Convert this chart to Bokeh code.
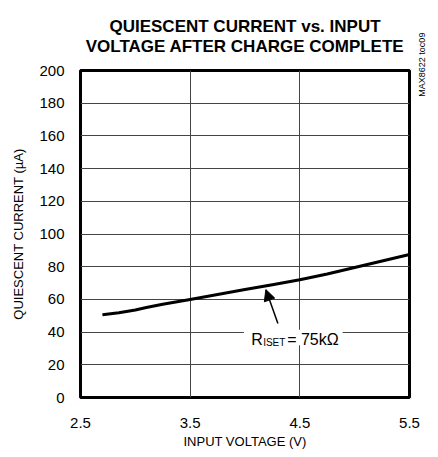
import math
from bokeh.plotting import figure
from bokeh.models import (Range1d, FixedTicker, Label, Arrow, NormalHead, BoxAnnotation,
                          Title, LinearAxis)
from bokeh.embed import file_html
from bokeh.resources import INLINE

# ---- data ----
voltage = [2.7, 2.85, 3.0, 3.1, 3.25, 3.5, 3.75, 4.0, 4.25, 4.5, 4.75, 5.0, 5.25, 5.5]
current = [50.6, 51.8, 53.5, 55.0, 57.0, 60.0, 63.0, 66.0, 69.0, 72.0, 75.5, 79.5, 83.5, 87.5]
x_ticks = [2.5, 3.5, 4.5, 5.5]
y_ticks = [0, 20, 40, 60, 80, 100, 120, 140, 160, 180, 200]
title_lines = ["QUIESCENT CURRENT vs. INPUT", "VOLTAGE AFTER CHARGE COMPLETE"]
side_id = "MAX8622 toc09"

FONT = "Liberation Sans"

p = figure(frame_width=329, frame_height=327, output_backend="svg", toolbar_location=None,
           x_range=Range1d(2.5, 5.5), y_range=Range1d(0, 200),
           min_border_left=0, min_border_right=0, min_border_top=0, min_border_bottom=0)

p.background_fill_color = "white"
p.border_fill_color = "white"
p.outline_line_color = "black"
p.outline_line_width = 3

p.line(voltage, current, line_color="black", line_width=3)

# axes
p.xaxis.ticker = FixedTicker(ticks=x_ticks)
p.yaxis.ticker = FixedTicker(ticks=y_ticks)
p.xgrid.ticker = FixedTicker(ticks=x_ticks[1:-1])
p.ygrid.ticker = FixedTicker(ticks=y_ticks[1:-1])
for g in (p.xgrid, p.ygrid):
    g.grid_line_color = "#444444"
    g.grid_line_width = 1
for ax in (p.xaxis, p.yaxis):
    ax.axis_line_color = None
    ax.major_tick_line_color = None
    ax.minor_tick_line_color = None
    ax.major_label_text_font = FONT
    ax.major_label_text_font_size = "15px"
    ax.major_label_text_color = "black"
    ax.axis_label_text_font = FONT
    ax.axis_label_text_font_size = "13px"
    ax.axis_label_text_font_style = "normal"
    ax.axis_label_text_color = "black"
p.xaxis.major_label_standoff = 14
p.yaxis.major_label_standoff = 10
p.xaxis.axis_label = "INPUT VOLTAGE (V)"
p.yaxis.axis_label = "QUIESCENT CURRENT (\u00b5A)"
p.xaxis.axis_label_standoff = 3
p.yaxis.axis_label_standoff = 10

# spacer on the far left so the frame stays in place
p.add_layout(Title(text=" ", text_font_size="1px", standoff=5), "left")

# side id text on the right
side_tick = 184
right_ax = LinearAxis(ticker=FixedTicker(ticks=[side_tick]),
                      major_label_overrides={side_tick: side_id},
                      major_label_orientation=math.pi / 2,
                      axis_line_color=None, major_tick_line_color=None,
                      minor_tick_line_color=None, major_label_standoff=7,
                      major_label_text_font=FONT, major_label_text_font_size="9px",
                      major_label_text_color="black")
p.add_layout(right_ax, "right")

# two-line title
title_kw = dict(text="\n".join(title_lines), align="center", text_font=FONT,
                text_font_style="bold", text_font_size="17px", text_color="black",
                text_line_height=1.05, standoff=29)
if "text_align" in Title.properties():
    title_kw["text_align"] = "center"
p.add_layout(Title(**title_kw), "above")

# annotation with white background box
p.add_layout(BoxAnnotation(left=3.99, right=4.89, bottom=32.0, top=41.5,
                           fill_color="white", fill_alpha=1.0, line_color=None))
p.add_layout(Label(x=4.056, y=35.5, text="R", text_baseline="middle",
                   text_font=FONT, text_font_size="16px", text_color="black"))
p.add_layout(Label(x=4.056, y=35.5, x_offset=12, y_offset=-3, text="ISET", text_baseline="middle",
                   text_font=FONT, text_font_size="10px", text_color="black"))
p.add_layout(Label(x=4.056, y=35.5, x_offset=36, text="= 75k\u03a9", text_baseline="middle",
                   text_font=FONT, text_font_size="16px", text_color="black"))
p.add_layout(Arrow(x_start=4.30, y_start=45.3, x_end=4.19, y_end=66.0,
                   line_color="black", line_width=1.5,
                   end=NormalHead(size=11, fill_color="black", line_color="black")))

open("out.html", "w").write(file_html(p, INLINE))
